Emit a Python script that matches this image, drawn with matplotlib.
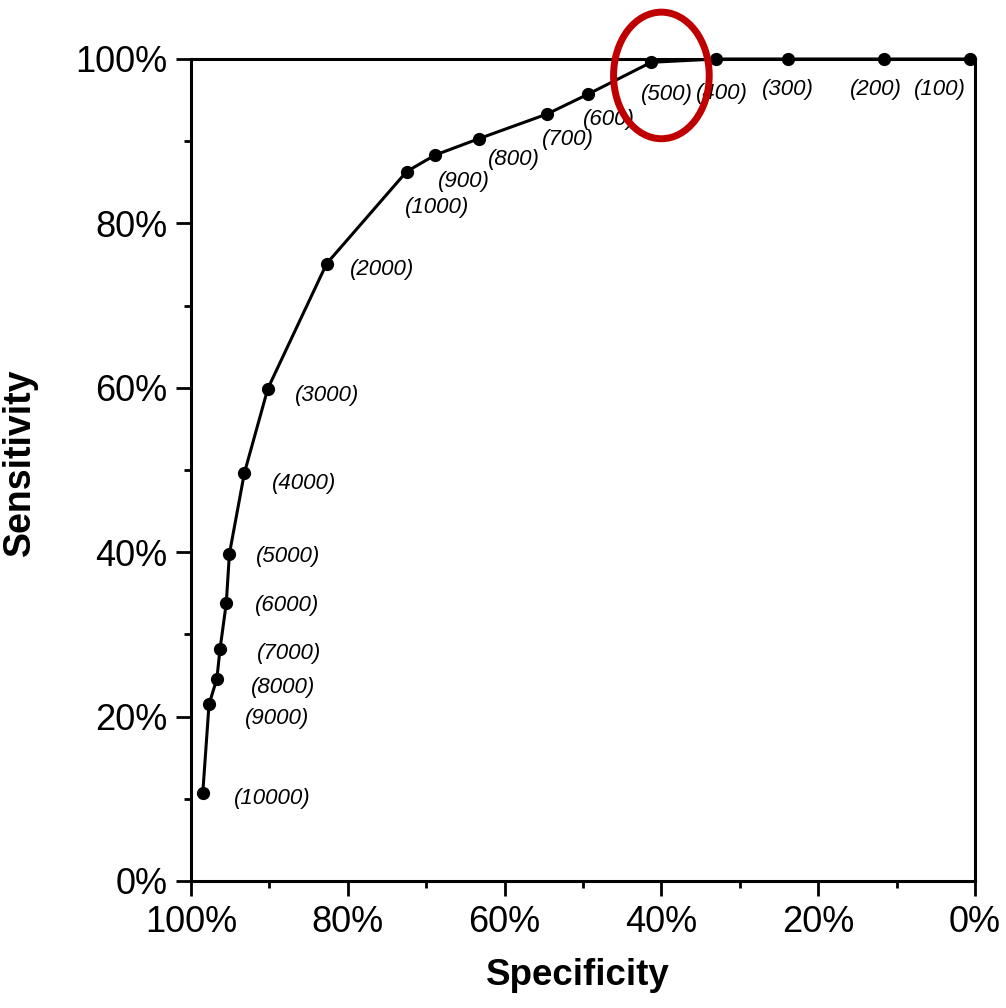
import matplotlib
matplotlib.use("Agg")
import matplotlib.pyplot as plt
from matplotlib.patches import Ellipse
from matplotlib.ticker import MultipleLocator, FuncFormatter

# ---- data ----
cutoffs = ["(10000)", "(9000)", "(8000)", "(7000)", "(6000)", "(5000)", "(4000)",
           "(3000)", "(2000)", "(1000)", "(900)", "(800)", "(700)", "(600)",
           "(500)", "(400)", "(300)", "(200)", "(100)"]
specificity = [98.5, 97.7, 96.7, 96.3, 95.5, 95.1, 93.2, 90.2, 82.7, 72.5,
               68.9, 63.3, 54.6, 49.4, 41.3, 33.0, 23.9, 11.6, 0.6]
sensitivity = [10.7, 21.5, 24.6, 28.2, 33.8, 39.8, 49.6, 59.9, 75.1, 86.3,
               88.3, 90.3, 93.3, 95.7, 99.6, 100.0, 100.0, 100.0, 100.0]

# label offsets (points) relative to each marker -- layout only
label_offsets = [(50, -4), (49, -10), (48, -6), (50, -3), (44, -2), (42, -2), (43, -7),
                 (43, -5), (40, -4), (22, -26), (21, -19), (25, -15), (15, -18), (15, -18),
                 (11, -23), (4, -25), (0, -22), (-6, -22), (-22, -22)]

fig = plt.figure(figsize=(10.06, 10.08), dpi=100)
ax = fig.add_axes([191/1006, 1 - 881/1008, (975 - 191)/1006, (881 - 59)/1008])

ax.plot(specificity, sensitivity, color="black", lw=2.2, marker="o",
        markersize=8.5, zorder=3, clip_on=False)

for lab, x, y, off in zip(cutoffs, specificity, sensitivity, label_offsets):
    ax.annotate(lab, (x, y), xytext=off, textcoords="offset points",
                ha="center", va="center", fontsize=16, style="italic",
                fontfamily="Liberation Sans", color="black")

ax.set_xlim(100, 0)
ax.set_ylim(0, 100)
pct = FuncFormatter(lambda v, p: f"{v:.0f}%")
ax.xaxis.set_major_locator(MultipleLocator(20))
ax.xaxis.set_minor_locator(MultipleLocator(10))
ax.yaxis.set_major_locator(MultipleLocator(20))
ax.yaxis.set_minor_locator(MultipleLocator(10))
ax.xaxis.set_major_formatter(pct)
ax.yaxis.set_major_formatter(pct)

for s in ax.spines.values():
    s.set_linewidth(2.2)
ax.tick_params(which="major", length=11, width=2, labelsize=26, direction="out", pad=6)
ax.tick_params(which="minor", length=5, width=2, direction="out")
for t in ax.get_xticklabels() + ax.get_yticklabels():
    t.set_fontfamily("Liberation Sans")

ax.set_xlabel("Specificity", fontsize=26.5, fontweight="bold",
              fontfamily="Liberation Sans")
ax.set_ylabel("Sensitivity", fontsize=27, fontweight="bold",
              fontfamily="Liberation Sans")
ax.xaxis.set_label_coords(0.494, -0.094)
ax.yaxis.set_label_coords(-0.195, 0.51)

# red highlight ellipse around the (500) point
ax.add_patch(Ellipse((40.0, 98.0), 12.2, 15.4, fill=False, edgecolor="#c00000",
                     lw=5, clip_on=False, zorder=5))

fig.savefig("out.png", dpi=100, facecolor="white")
